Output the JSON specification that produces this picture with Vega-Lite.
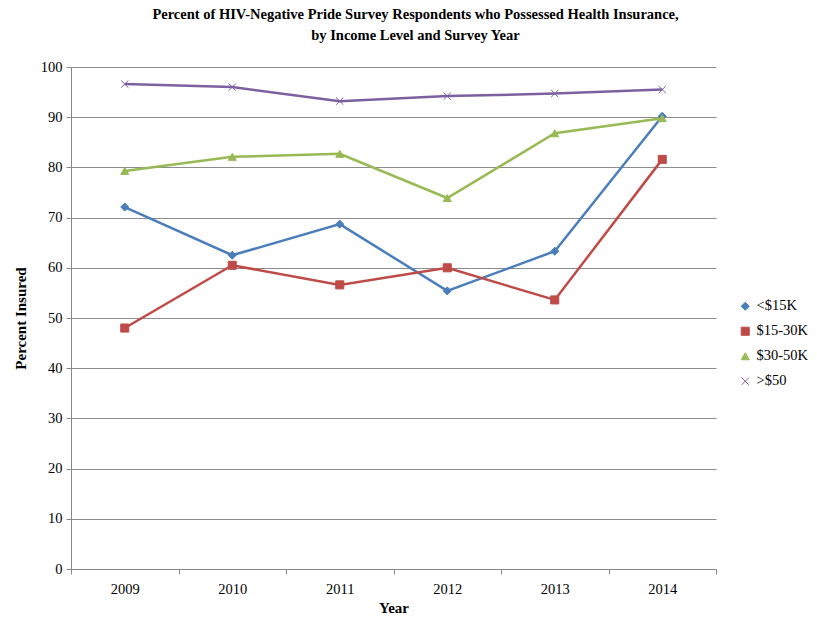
{
  "$schema": "https://vega.github.io/schema/vega-lite/v6.json",
  "autosize": "none",
  "width": 645,
  "height": 502,
  "padding": {"left": 71, "top": 67, "right": 101, "bottom": 48},
  "background": "white",
  "title": {
    "text": ["Percent of HIV-Negative Pride Survey Respondents who Possessed Health Insurance,", "by Income Level and Survey Year"],
    "font": "Liberation Serif",
    "fontSize": 14.5,
    "fontWeight": "bold",
    "color": "black",
    "anchor": "middle",
    "dx": 22,
    "offset": 16,
    "lineHeight": 21
  },
  "data": {
    "values": [
      {"year": "2009", "group": "<$15K", "pct": 72.1},
      {"year": "2010", "group": "<$15K", "pct": 62.5},
      {"year": "2011", "group": "<$15K", "pct": 68.7},
      {"year": "2012", "group": "<$15K", "pct": 55.4},
      {"year": "2013", "group": "<$15K", "pct": 63.3},
      {"year": "2014", "group": "<$15K", "pct": 90.2},
      {"year": "2009", "group": "$15-30K", "pct": 48.0},
      {"year": "2010", "group": "$15-30K", "pct": 60.5},
      {"year": "2011", "group": "$15-30K", "pct": 56.6},
      {"year": "2012", "group": "$15-30K", "pct": 60.0},
      {"year": "2013", "group": "$15-30K", "pct": 53.6},
      {"year": "2014", "group": "$15-30K", "pct": 81.6},
      {"year": "2009", "group": "$30-50K", "pct": 79.3},
      {"year": "2010", "group": "$30-50K", "pct": 82.1},
      {"year": "2011", "group": "$30-50K", "pct": 82.7},
      {"year": "2012", "group": "$30-50K", "pct": 73.9},
      {"year": "2013", "group": "$30-50K", "pct": 86.8},
      {"year": "2014", "group": "$30-50K", "pct": 89.8},
      {"year": "2009", "group": ">$50", "pct": 96.6},
      {"year": "2010", "group": ">$50", "pct": 96.0},
      {"year": "2011", "group": ">$50", "pct": 93.2},
      {"year": "2012", "group": ">$50", "pct": 94.2},
      {"year": "2013", "group": ">$50", "pct": 94.7},
      {"year": "2014", "group": ">$50", "pct": 95.5}
    ]
  },
  "encoding": {
    "x": {
      "field": "year",
      "type": "ordinal",
      "scale": {"type": "band", "paddingInner": 0, "paddingOuter": 0},
      "axis": {
        "title": "Year",
        "titleFont": "Liberation Serif",
        "titleFontSize": 15,
        "titleFontWeight": "bold",
        "titleColor": "black",
        "titlePadding": 5,
        "labelFont": "Liberation Serif",
        "labelFontSize": 14.5,
        "labelColor": "black",
        "labelAngle": 0,
        "labelPadding": 8,
        "tickBand": "extent",
        "tickColor": "#888888",
        "tickSize": 5,
        "domainColor": "#888888",
        "grid": false
      }
    },
    "y": {
      "field": "pct",
      "type": "quantitative",
      "scale": {"domain": [0, 100]},
      "axis": {
        "title": "Percent Insured",
        "titleFont": "Liberation Serif",
        "titleFontSize": 15,
        "titleFontWeight": "bold",
        "titleColor": "black",
        "titlePadding": 12,
        "values": [0, 10, 20, 30, 40, 50, 60, 70, 80, 90, 100],
        "labelFont": "Liberation Serif",
        "labelFontSize": 14.5,
        "labelColor": "black",
        "labelPadding": 4,
        "tickColor": "#888888",
        "tickSize": 5,
        "domainColor": "#888888",
        "gridColor": "#8c8c8c",
        "gridWidth": 1
      }
    }
  },
  "layer": [
    {
      "mark": {"type": "line", "strokeWidth": 2.5},
      "encoding": {
        "stroke": {
          "field": "group",
          "type": "nominal",
          "scale": {"domain": ["<$15K", "$15-30K", "$30-50K", ">$50"], "range": ["#4a7ebb", "#be4b48", "#98b954", "#7d60a0"]},
          "title": null
        }
      }
    },
    {
      "mark": {"type": "point", "opacity": 1, "strokeWidth": 1, "size": 65},
      "encoding": {
        "fill": {
          "field": "group",
          "type": "nominal",
          "scale": {"domain": ["<$15K", "$15-30K", "$30-50K", ">$50"], "range": ["#4a7ebb", "#be4b48", "#98b954", "#7d60a0"]},
          "title": null
        },
        "stroke": {
          "field": "group",
          "type": "nominal",
          "title": null
        },
        "shape": {
          "field": "group",
          "type": "nominal",
          "scale": {"domain": ["<$15K", "$15-30K", "$30-50K", ">$50"], "range": ["diamond", "square", "triangle-up", "M-0.9,-0.9L0.9,0.9M0.9,-0.9L-0.9,0.9"]},
          "title": null
        }
      }
    }
  ],
  "config": {
    "view": {"stroke": null},
    "legend": {
      "orient": "none",
      "legendX": 667,
      "legendY": 232,
      "labelFont": "Liberation Serif",
      "labelFontSize": 14.5,
      "labelColor": "black",
      "symbolSize": 65,
      "symbolStrokeWidth": 1,
      "rowPadding": 10,
      "labelOffset": 4
    }
  }
}
